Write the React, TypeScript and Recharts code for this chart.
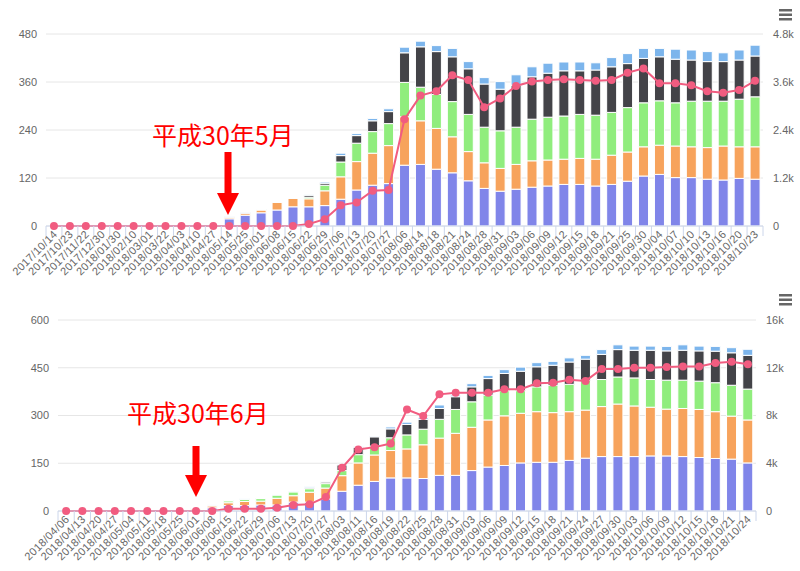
import { Bar, CartesianGrid, ComposedChart, Line, XAxis, YAxis } from "recharts";

// chart 1
const dates1 = [
  "2017/10/14", "2017/10/23", "2017/11/22", "2017/12/30", "2018/01/30", "2018/02/10", "2018/03/01", "2018/03/22",
  "2018/04/03", "2018/04/10", "2018/04/27", "2018/05/14", "2018/05/25", "2018/06/01", "2018/06/08", "2018/06/15",
  "2018/06/22", "2018/06/29", "2018/07/06", "2018/07/13", "2018/07/20", "2018/07/27", "2018/08/06", "2018/08/14",
  "2018/08/18", "2018/08/21", "2018/08/24", "2018/08/28", "2018/08/31", "2018/09/03", "2018/09/06", "2018/09/09",
  "2018/09/12", "2018/09/15", "2018/09/18", "2018/09/21", "2018/09/25", "2018/09/30", "2018/10/04", "2018/10/07",
  "2018/10/10", "2018/10/13", "2018/10/16", "2018/10/20", "2018/10/23"
];
const purple1 = [0, 0, 0, 0, 0, 0, 0, 0, 0, 0, 0, 18, 27, 33, 40, 48, 48, 51, 67, 90, 102, 106, 152, 154, 142, 133, 113, 94, 87, 92, 97, 100, 104, 104, 100, 104, 112, 125, 129, 121, 121, 117, 115, 119, 117];
const orange1 = [0, 0, 0, 0, 0, 0, 0, 0, 0, 0, 0, 4, 5, 7, 19, 21, 20, 37, 56, 71, 80, 95, 121, 109, 102, 90, 73, 64, 57, 62, 66, 65, 63, 65, 67, 73, 73, 73, 73, 79, 77, 79, 85, 79, 81];
const green1 = [0, 0, 0, 0, 0, 0, 0, 0, 0, 0, 0, 0, 0, 1, 0, 0, 4, 14, 37, 46, 54, 55, 86, 84, 85, 88, 93, 89, 94, 93, 104, 107, 108, 110, 110, 107, 111, 110, 111, 108, 114, 116, 112, 119, 125];
const dark1 = [0, 0, 0, 0, 0, 0, 0, 0, 0, 0, 0, 0, 0, 0, 0, 0, 5, 5, 16, 19, 27, 30, 74, 101, 107, 112, 114, 108, 104, 105, 106, 110, 113, 109, 113, 114, 110, 111, 110, 109, 103, 99, 99, 98, 102];
const blue1 = [0, 0, 0, 0, 0, 0, 0, 0, 0, 0, 0, 1, 2, 1, 1, 1, 1, 3, 6, 5, 6, 7, 14, 14, 15, 21, 18, 16, 19, 26, 25, 25, 22, 22, 18, 23, 25, 25, 21, 25, 25, 25, 22, 25, 27];
const total1 = [0, 0, 0, 0, 0, 0, 0, 0, 0, 0, 0, 0, 0, 0, 0, 0, 50, 170, 520, 590, 880, 900, 2670, 3260, 3370, 3770, 3650, 2970, 3190, 3500, 3610, 3650, 3670, 3650, 3630, 3650, 3830, 3940, 3570, 3570, 3520, 3370, 3330, 3400, 3630];
const leftTicks1 = [0, 120, 240, 360, 480];
const rightTicks1 = [0, 1200, 2400, 3600, 4800];

// chart 2
const dates2 = [
  "2018/04/06", "2018/04/13", "2018/04/20", "2018/04/27", "2018/05/04", "2018/05/11", "2018/05/18", "2018/05/25",
  "2018/06/01", "2018/06/08", "2018/06/15", "2018/06/22", "2018/06/29", "2018/07/06", "2018/07/13", "2018/07/20",
  "2018/07/27", "2018/08/03", "2018/08/11", "2018/08/16", "2018/08/19", "2018/08/22", "2018/08/25", "2018/08/28",
  "2018/08/31", "2018/09/03", "2018/09/06", "2018/09/09", "2018/09/12", "2018/09/15", "2018/09/18", "2018/09/21",
  "2018/09/24", "2018/09/27", "2018/09/30", "2018/10/03", "2018/10/06", "2018/10/09", "2018/10/12", "2018/10/15",
  "2018/10/18", "2018/10/21", "2018/10/24"
];
const purple2 = [0, 0, 0, 0, 0, 0, 0, 0, 3, 10, 17, 17, 19, 19, 28, 28, 38, 62, 81, 93, 104, 104, 102, 112, 112, 127, 138, 143, 151, 153, 153, 159, 166, 171, 171, 171, 173, 173, 171, 168, 165, 163, 151];
const orange2 = [0, 0, 0, 0, 0, 0, 0, 0, 4, 6, 9, 13, 12, 21, 20, 31, 34, 49, 70, 83, 86, 91, 106, 117, 132, 136, 148, 156, 156, 159, 156, 153, 151, 157, 165, 159, 153, 147, 151, 151, 147, 135, 135];
const green2 = [0, 0, 0, 0, 0, 0, 0, 0, 0, 2, 6, 7, 8, 10, 12, 11, 14, 16, 26, 28, 40, 44, 49, 59, 75, 80, 78, 79, 71, 78, 86, 86, 94, 85, 85, 88, 87, 91, 89, 89, 91, 97, 97];
const dark2 = [0, 0, 0, 0, 0, 0, 0, 0, 0, 0, 0, 0, 0, 0, 0, 3, 5, 18, 23, 29, 28, 33, 31, 34, 40, 47, 52, 54, 61, 63, 63, 70, 66, 79, 86, 87, 92, 92, 94, 95, 99, 102, 106];
const blue2 = [0, 0, 0, 0, 0, 0, 0, 0, 1, 1, 1, 1, 1, 2, 2, 3, 2, 2, 2, 2, 6, 7, 6, 11, 5, 10, 10, 12, 13, 13, 12, 13, 12, 15, 15, 13, 13, 14, 17, 15, 15, 16, 19];
const total2 = [0, 0, 0, 0, 0, 0, 0, 0, 0, 0, 180, 180, 180, 270, 500, 560, 1180, 3620, 5150, 5350, 5650, 8500, 7960, 9770, 9900, 9900, 9900, 10200, 10200, 10700, 10750, 11000, 10900, 11900, 11900, 12000, 12000, 12070, 12100, 12100, 12400, 12500, 12300];
const leftTicks2 = [0, 150, 300, 450, 600];
const rightTicks2 = [0, 4000, 8000, 12000, 16000];

const COLORS = { purple: "#8085e9", orange: "#f7a35c", green: "#90ed7d", dark: "#434348", blue: "#7cb5ec", line: "#f15c80" };

const build = (dates: string[], p: number[], o: number[], g: number[], d: number[], b: number[], t: number[]) =>
  dates.map((date, i) => ({ date, p: p[i], o: o[i], g: g[i], d: d[i], b: b[i], t: t[i] }));

const data1 = build(dates1, purple1, orange1, green1, dark1, blue1, total1);
const data2 = build(dates2, purple2, orange2, green2, dark2, blue2, total2);

const kFmt = (v: number) => (v === 0 ? "0" : `${v / 1000}k`);

function DateTick(props: any) {
  const { x, y, payload, half, count } = props;
  const tx = x + 4;
  const ty = y + 9;
  return (
    <g>
      <line x1={x - half} x2={x - half} y1={y} y2={y + 10} stroke="#ccd6eb" />
      {payload.index === count - 1 && <line x1={x + half} x2={x + half} y1={y} y2={y + 10} stroke="#ccd6eb" />}
      <text x={tx} y={ty} textAnchor="end" fontSize={11} letterSpacing={0.3} fill="#666" transform={`rotate(-45 ${tx} ${ty})`}>
        {payload.value}
      </text>
    </g>
  );
}

function Menu({ top }: { top: number }) {
  return (
    <svg style={{ position: "absolute", left: 778, top, width: 16, height: 14 }}>
      <rect x={1} y={1} width={13} height={2.5} fill="#666" />
      <rect x={1} y={5.5} width={13} height={2.5} fill="#666" />
      <rect x={1} y={10} width={13} height={2.5} fill="#666" />
    </svg>
  );
}

function Note({ text, left, top, arrowX, arrowTop, arrowTip }: { text: string; left: number; top: number; arrowX: number; arrowTop: number; arrowTip: number }) {
  const headTop = arrowTip - 22;
  return (
    <>
      <div style={{ position: "absolute", left, top, color: "#ff0000", fontSize: 25, lineHeight: "30px", fontFamily: "'Noto Sans CJK JP', sans-serif", whiteSpace: "nowrap" }}>
        {text}
      </div>
      <svg style={{ position: "absolute", left: 0, top: 0, width: 800, height: 571, pointerEvents: "none" }}>
        <rect x={arrowX - 3.5} y={arrowTop} width={7} height={headTop - arrowTop} fill="#ff0000" />
        <polygon points={`${arrowX - 11},${headTop} ${arrowX + 11},${headTop} ${arrowX},${arrowTip}`} fill="#ff0000" />
      </svg>
    </>
  );
}

type Cfg = {
  data: any[];
  count: number;
  leftTicks: number[];
  rightTicks: number[];
  leftW: number;
  rightW: number;
  top: number;
  height: number;
  axisH: number;
  rightFmt: (v: number) => string;
};

function StackChart({ data, count, leftTicks, rightTicks, leftW, rightW, top, height, axisH, rightFmt }: Cfg) {
  const half = (800 - leftW - rightW) / count / 2;
  return (
    <ComposedChart width={800} height={height} data={data} margin={{ top, right: 0, bottom: 0, left: 0 }} barCategoryGap={0}>
      <CartesianGrid yAxisId="l" vertical={false} stroke="#e6e6e6" />
      <XAxis
        dataKey="date"
        interval={0}
        height={axisH}
        tickSize={0}
        tickMargin={0}
        tickLine={false}
        axisLine={{ stroke: "#ccd6eb" }}
        tick={<DateTick half={half} count={count} />}
      />
      <YAxis
        yAxisId="l"
        width={leftW}
        domain={[0, leftTicks[leftTicks.length - 1]]}
        ticks={leftTicks}
        tickSize={0}
        tickMargin={9}
        axisLine={false}
        tickLine={false}
        tick={{ fill: "#666", fontSize: 11 }}
      />
      <YAxis
        yAxisId="r"
        orientation="right"
        width={rightW}
        domain={[0, rightTicks[rightTicks.length - 1]]}
        ticks={rightTicks}
        tickFormatter={rightFmt}
        tickSize={0}
        tickMargin={10}
        axisLine={false}
        tickLine={false}
        tick={{ fill: "#666", fontSize: 11 }}
      />
      <Bar yAxisId="l" dataKey="p" stackId="s" fill={COLORS.purple} stroke="#fff" strokeWidth={1} barSize={10} isAnimationActive={false} />
      <Bar yAxisId="l" dataKey="o" stackId="s" fill={COLORS.orange} stroke="#fff" strokeWidth={1} barSize={10} isAnimationActive={false} />
      <Bar yAxisId="l" dataKey="g" stackId="s" fill={COLORS.green} stroke="#fff" strokeWidth={1} barSize={10} isAnimationActive={false} />
      <Bar yAxisId="l" dataKey="d" stackId="s" fill={COLORS.dark} stroke="#fff" strokeWidth={1} barSize={10} isAnimationActive={false} />
      <Bar yAxisId="l" dataKey="b" stackId="s" fill={COLORS.blue} stroke="#fff" strokeWidth={1} barSize={10} isAnimationActive={false} />
      <Line
        yAxisId="r"
        dataKey="t"
        stroke={COLORS.line}
        strokeWidth={2}
        dot={{ r: 4, fill: COLORS.line, stroke: "none" }}
        isAnimationActive={false}
      />
    </ComposedChart>
  );
}

export default function App() {
  return (
    <div style={{ position: "absolute", left: 0, top: 0, width: 800, height: 571, background: "#fff", fontFamily: "'Liberation Sans', Arial, sans-serif" }}>
      <div style={{ position: "absolute", left: 0, top: 0 }}>
        <StackChart
          data={data1}
          count={dates1.length}
          leftTicks={leftTicks1}
          rightTicks={rightTicks1}
          leftW={46}
          rightW={37}
          top={34}
          height={290}
          axisH={64}
          rightFmt={kFmt}
        />
      </div>
      <div style={{ position: "absolute", left: 0, top: 290 }}>
        <StackChart
          data={data2}
          count={dates2.length}
          leftTicks={leftTicks2}
          rightTicks={rightTicks2}
          leftW={58}
          rightW={44}
          top={30}
          height={281}
          axisH={60}
          rightFmt={kFmt}
        />
      </div>
      <Menu top={8} />
      <Menu top={293} />
      <Note text="平成30年5月" left={152} top={119} arrowX={228} arrowTop={152} arrowTip={215} />
      <Note text="平成30年6月" left={127} top={397} arrowX={196} arrowTop={446} arrowTip={497} />
    </div>
  );
}
